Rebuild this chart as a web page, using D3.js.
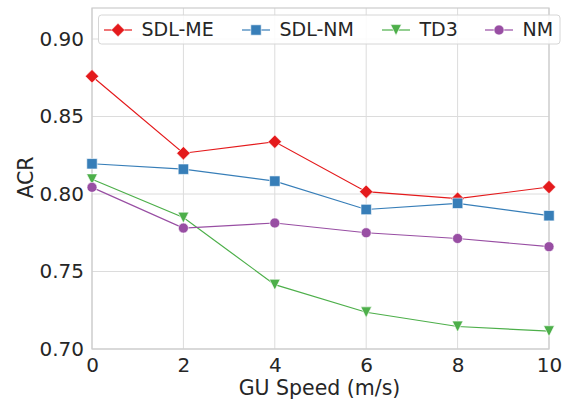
<!DOCTYPE html>
<html>
<head>
<meta charset="utf-8">
<script src="https://cdn.jsdelivr.net/npm/d3@7"></script>
<style>
  html, body { margin: 0; padding: 0; background: #fff; }
  svg { display: block; font-family: "DejaVu Sans", sans-serif; }
</style>
</head>
<body>
<svg id="chart" width="569" height="400"></svg>
<script>
// GU speed (m/s) on the x axis
const speeds = [0, 2, 4, 6, 8, 10];
// ACR per method
const sdlMe = [0.876, 0.8263, 0.8337, 0.8015, 0.797, 0.8045];
const sdlNm = [0.8195, 0.816, 0.8083, 0.790, 0.794, 0.786];
const td3   = [0.8095, 0.7848, 0.7415, 0.7237, 0.7145, 0.7115];
const nm    = [0.8043, 0.778, 0.7813, 0.775, 0.7713, 0.766];
const seriesNames = ["SDL-ME", "SDL-NM", "TD3", "NM"];
const xTicks = [0, 2, 4, 6, 8, 10];
const yTicks = [0.70, 0.75, 0.80, 0.85, 0.90];

const series = [
  { name: seriesNames[0], values: sdlMe, color: "#e41a1c", shape: "diamond" },
  { name: seriesNames[1], values: sdlNm, color: "#377eb8", shape: "square" },
  { name: seriesNames[2], values: td3,   color: "#4daf4a", shape: "triangle" },
  { name: seriesNames[3], values: nm,    color: "#984ea3", shape: "circle" }
];

const svg = d3.select("#chart");
const m = { left: 92, right: 549, top: 8, bottom: 349 };

const x = d3.scaleLinear().domain([0, 10]).range([m.left, m.right]);
const y = d3.scaleLinear().domain([0.70, 0.92]).range([m.bottom, m.top]);

const gridColor = "#dcdcdc";
const textColor = "#262626";

// grid
svg.append("g").selectAll("line").data(xTicks).join("line")
  .attr("x1", d => x(d)).attr("x2", d => x(d))
  .attr("y1", m.top).attr("y2", m.bottom)
  .attr("stroke", gridColor).attr("stroke-width", 1);
svg.append("g").selectAll("line").data(yTicks).join("line")
  .attr("x1", m.left).attr("x2", m.right)
  .attr("y1", d => y(d)).attr("y2", d => y(d))
  .attr("stroke", gridColor).attr("stroke-width", 1);

// axes (tick labels only, no tick marks)
const xAxis = svg.append("g").attr("transform", `translate(0,${m.bottom})`)
  .call(d3.axisBottom(x).tickValues(xTicks).tickSize(0).tickPadding(9).tickFormat(d3.format("d")));
const yAxis = svg.append("g").attr("transform", `translate(${m.left},0)`)
  .call(d3.axisLeft(y).tickValues(yTicks).tickSize(0).tickPadding(8).tickFormat(d3.format(".2f")));
[xAxis, yAxis].forEach(a => {
  a.select(".domain").remove();
  a.selectAll("text").attr("fill", textColor).style("font-size", "20px")
    .style("font-family", "DejaVu Sans, sans-serif");
});

// frame
svg.append("rect")
  .attr("x", m.left).attr("y", m.top)
  .attr("width", m.right - m.left).attr("height", m.bottom - m.top)
  .attr("fill", "none").attr("stroke", "#cccccc").attr("stroke-width", 1.2);

// axis titles
svg.append("text").attr("x", (m.left + m.right) / 2 - 1).attr("y", 395)
  .attr("text-anchor", "middle").attr("fill", textColor).style("font-size", "20.5px")
  .text("GU Speed (m/s)");
svg.append("text")
  .attr("transform", `translate(32.5,${(m.top + m.bottom) / 2 - 1}) rotate(-90)`)
  .attr("text-anchor", "middle").attr("fill", textColor).style("font-size", "20.5px")
  .text("ACR");

// marker outlines, centred on the data point
function markerPath(shape) {
  const p = d3.path();
  if (shape === "diamond") {
    const r = 6.7;
    p.moveTo(0, -r); p.lineTo(r, 0); p.lineTo(0, r); p.lineTo(-r, 0); p.closePath();
  } else if (shape === "square") {
    const h = 5.2;
    p.rect(-h, -h, 2 * h, 2 * h);
  } else if (shape === "triangle") {
    const r = 5.4;
    p.moveTo(0, r); p.lineTo(-r, -r); p.lineTo(r, -r); p.closePath();
  } else {
    p.arc(0, 0, 5, 0, 2 * Math.PI);
  }
  return p.toString();
}

const line = d3.line().x((d, i) => x(speeds[i])).y(d => y(d));

series.forEach(s => {
  const g = svg.append("g");
  g.append("path").datum(s.values)
    .attr("d", line).attr("fill", "none")
    .attr("stroke", s.color).attr("stroke-width", 1.2);
  g.selectAll("path.mk").data(s.values).join("path").attr("class", "mk")
    .attr("d", markerPath(s.shape))
    .attr("transform", (d, i) => `translate(${x(speeds[i])},${y(d)})`)
    .attr("fill", s.color).attr("stroke", "#ffffff").attr("stroke-width", 0.6);
});

// legend
const legend = svg.append("g");
legend.append("rect")
  .attr("x", 98.5).attr("y", 15).attr("width", 461.5).attr("height", 29)
  .attr("rx", 3).attr("fill", "rgba(255,255,255,0.85)")
  .attr("stroke", "#d6d6d6").attr("stroke-width", 1);
const legendX = [104, 242, 382, 485];
series.forEach((s, i) => {
  const lx = legendX[i], ly = 30;
  legend.append("line").attr("x1", lx).attr("x2", lx + 28).attr("y1", ly).attr("y2", ly)
    .attr("stroke", s.color).attr("stroke-width", 1.2);
  legend.append("path").attr("d", markerPath(s.shape))
    .attr("transform", `translate(${lx + 14},${ly})`)
    .attr("fill", s.color).attr("stroke", "#ffffff").attr("stroke-width", 0.6);
  legend.append("text").attr("x", lx + 37.5).attr("y", 35.5)
    .attr("fill", textColor).style("font-size", "19px").text(s.name);
});
</script>
</body>
</html>
